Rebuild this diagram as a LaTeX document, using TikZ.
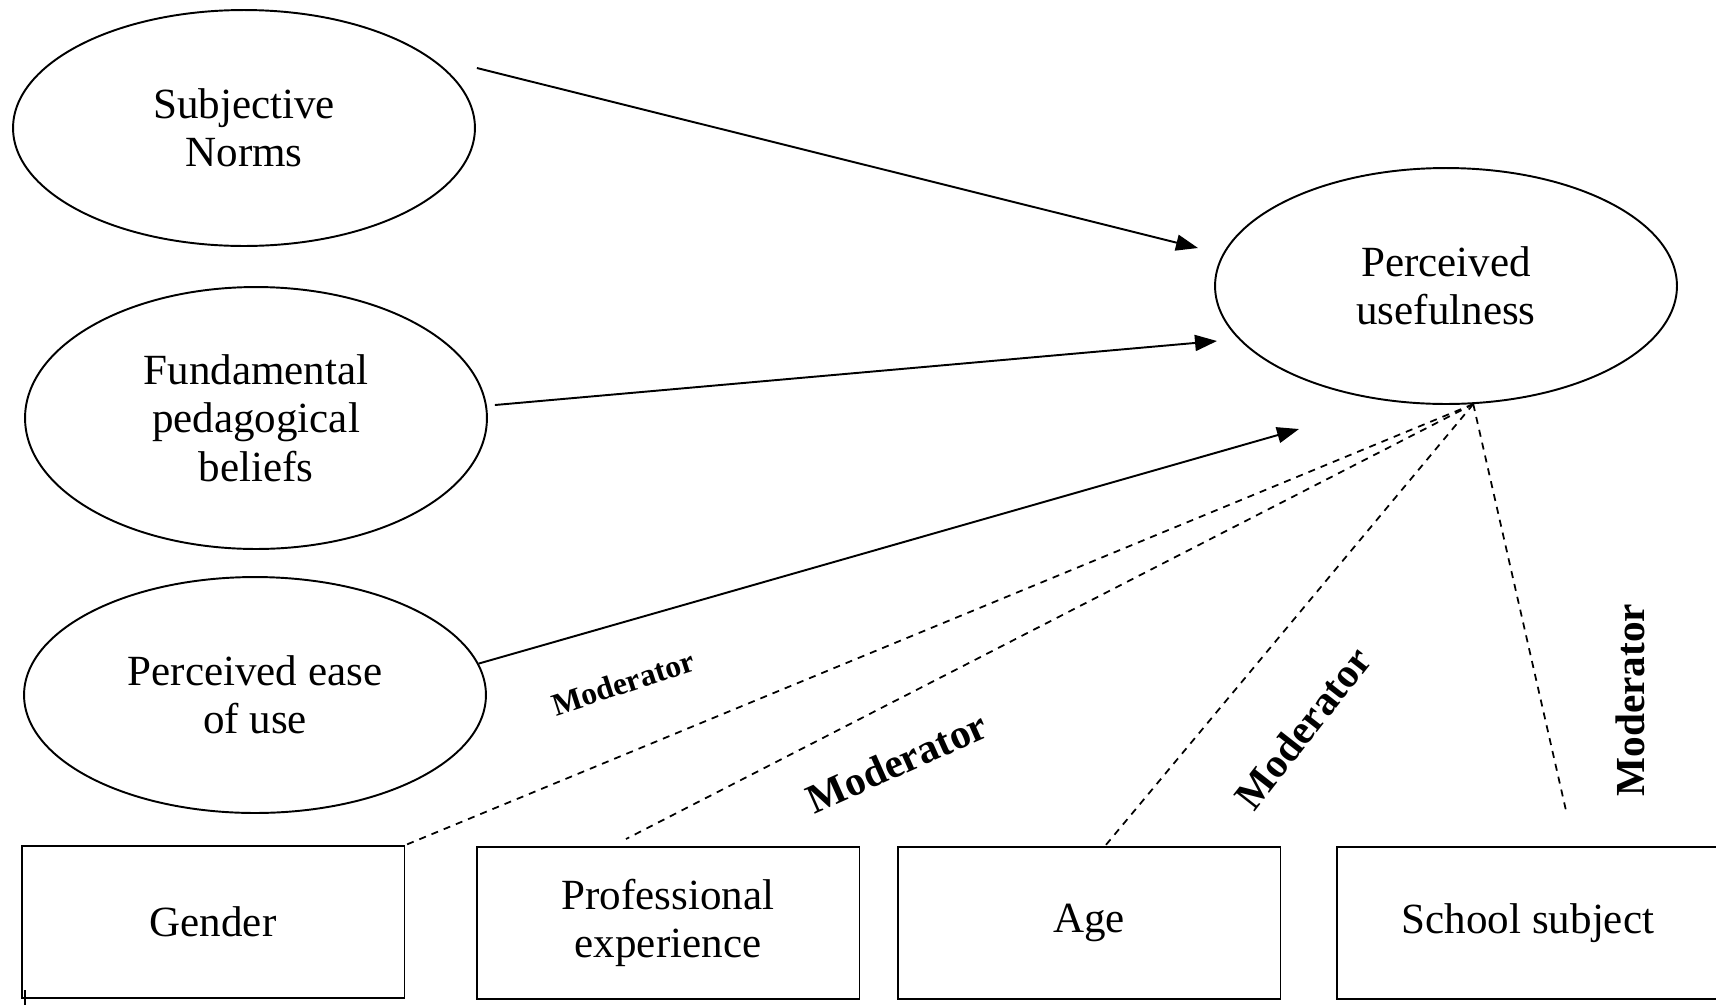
\documentclass[tikz,border=0pt]{standalone}
\usepackage{fontspec}
\setmainfont{Liberation Serif}
\usetikzlibrary{shapes.geometric, arrows.meta}

\begin{document}
\begin{tikzpicture}[x=0.02cm, y=-0.02cm,
        cons/.style={ellipse, draw, line width=1.1pt, align=center, inner sep=0pt,
                font=\fontsize{24.5}{27.5}\selectfont,
                minimum width=9.24cm, minimum height=4.72cm},
        mbox/.style={rectangle, draw, line width=1.1pt, align=center,
                font=\fontsize{24.5}{27.5}\selectfont,
                minimum width=7.66cm, minimum height=3.04cm},
        mlbl/.style={font=\bfseries\fontsize{23.5}{26}\selectfont, inner sep=1pt},
        eff/.style={draw, line width=1.1pt, -{Triangle[length=4.4mm,width=3.2mm]}},
        modl/.style={draw, line width=1pt, dash pattern=on 4pt off 3.5pt}
        ]
        \useasboundingbox (0,0) rectangle (1716,1005);

        \node[cons] (sn)  at (244,128) {Subjective\\Norms};
        \node[cons, minimum height=5.24cm] (fpb) at (256,418) {Fundamental\\pedagogical\\beliefs};
        \node[cons] (peu) at (255,695) {Perceived ease\\of use};
        \node[cons] (pu)  at (1446,286) {Perceived\\usefulness};

        \node[mbox] (gender) at (213,922)  {Gender};
        \node[mbox] (prof)   at (668,923)  {Professional\\experience};
        \node[mbox] (age)    at (1089,923) {Age};
        \node[mbox] (school) at (1528,923) {School subject};

        % direct effects on perceived usefulness
        \coordinate (t1) at (1198,248);
        \coordinate (t2) at (1217,341);
        \coordinate (t3) at (1299,429);
        \draw[eff] ([shift={(1,-60)}]sn.east) -- (t1);
        \draw[eff] ([shift={(7,-13)}]fpb.east) -- (t2);
        \draw[eff] (peu.8)  -- (t3);

        % moderators
        \coordinate (m2) at (626,839);
        \coordinate (m3) at (1105,846);
        \coordinate (m4) at (1567,815);
        \foreach \m in {gender.north east, m2, m3, m4} {
                \draw[modl] (pu.-77) -- (\m);
            }
        \node[mlbl, font=\bfseries\fontsize{18}{20}\selectfont, rotate=18] (lg) at (623,683) {Moderator};
        \node[mlbl, rotate=24] (lp) at (897,762)  {Moderator};
        \node[mlbl, rotate=52] (la) at (1303,728) {Moderator};
        \node[mlbl, rotate=90] (ls) at (1630,700) {Moderator};

        \draw[line width=0.8pt] (25,990) -- (25,1005);
    \end{tikzpicture}
\end{document}
